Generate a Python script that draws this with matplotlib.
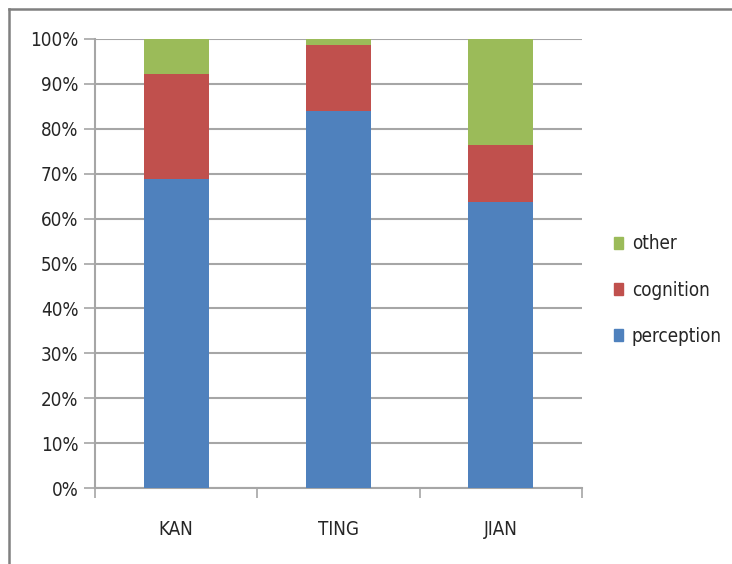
import matplotlib
matplotlib.use("Agg")
import matplotlib.pyplot as plt
from matplotlib.lines import Line2D
from matplotlib.patches import Patch
import numpy as np

categories = ["KAN", "TING", "JIAN"]
perception = [68.8, 83.9, 63.6]
cognition = [23.4, 14.8, 12.8]
other = [7.8, 1.3, 23.6]
y_ticks = [0, 10, 20, 30, 40, 50, 60, 70, 80, 90, 100]
y_labels = [f"{v}%" for v in y_ticks]

colors = {"perception": "#4F81BD", "cognition": "#C0504D", "other": "#9BBB59"}
grid_color = "#A6A6A6"
text_color = "#262626"

plt.rcParams["font.family"] = ["DejaVu Sans"]
plt.rcParams["font.stretch"] = "condensed"

W, H = 732, 564
fig = plt.figure(figsize=(W / 100, H / 100), dpi=100)

# plot area in pixel coordinates
left, right, top, bottom = 95, 582, 39, 488
ax = fig.add_axes([left / W, 1 - bottom / H, (right - left) / W, (bottom - top) / H])

x = np.arange(len(categories))
width = 0.4
p = np.array(perception)
c = np.array(cognition)
o = np.array(other)
ax.bar(x, p, width, color=colors["perception"], zorder=3)
ax.bar(x, c, width, bottom=p, color=colors["cognition"], zorder=3)
ax.bar(x, o, width, bottom=p + c, color=colors["other"], zorder=3)

ax.set_xlim(-0.5, len(categories) - 0.5)
ax.set_ylim(0, 100)
ax.set_yticks(y_ticks)
ax.set_yticklabels(y_labels, fontsize=13.5, color=text_color)
ax.yaxis.grid(True, color=grid_color, linewidth=1.5, zorder=0)
ax.set_axisbelow(True)

# category ticks sit between the bars, labels at bar centres
ax.set_xticks(np.arange(len(categories) + 1) - 0.5)
ax.set_xticklabels([])
ax.set_xticks(x, minor=True)
ax.set_xticklabels(categories, minor=True, fontsize=13.5, color=text_color)
ax.tick_params(axis="x", which="minor", length=0, pad=23)
ax.tick_params(axis="x", which="major", length=7, color=grid_color, width=1.2)
ax.tick_params(axis="y", length=8, color=grid_color, width=1.2, pad=4)

for side in ["top", "right"]:
    ax.spines[side].set_visible(False)
for side in ["left", "bottom"]:
    ax.spines[side].set_color(grid_color)
    ax.spines[side].set_linewidth(1.5)

handles = [Patch(color=colors["other"], label="other"),
           Patch(color=colors["cognition"], label="cognition"),
           Patch(color=colors["perception"], label="perception")]
fig.legend(handles=handles, loc="center left",
           bbox_to_anchor=(614 / W, 1 - 290 / H), frameon=False,
           borderaxespad=0, borderpad=0,
           fontsize=13.5, handlelength=0.5, handleheight=0.6,
           handletextpad=0.45, labelspacing=1.45, labelcolor=text_color)

# outer chart frame (top and left edges)
fig.add_artist(Line2D([8.5 / W, 1], [1 - 9 / H, 1 - 9 / H], color="#808080",
                      linewidth=1.8, transform=fig.transFigure))
fig.add_artist(Line2D([8.5 / W, 8.5 / W], [0, 1 - 9 / H], color="#808080",
                      linewidth=1.8, transform=fig.transFigure))

fig.savefig("out.png", dpi=100)
